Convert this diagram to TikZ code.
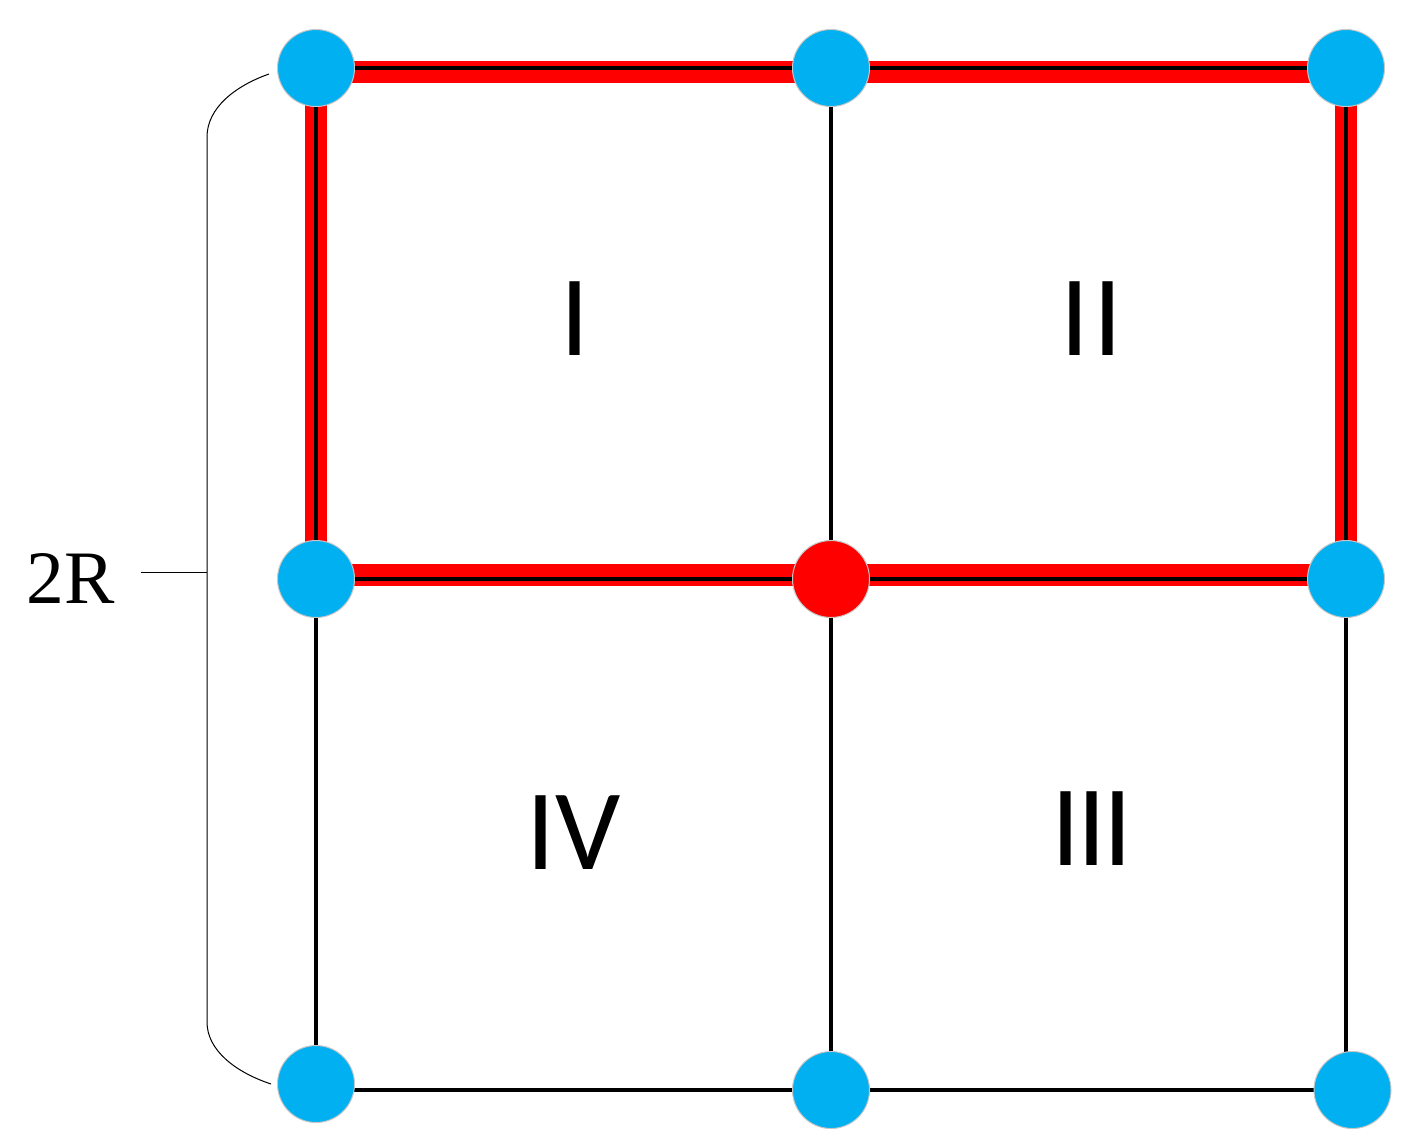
\documentclass[tikz,border=0pt]{standalone}
\usepackage{fontspec}
\setmainfont{Liberation Serif}
\newfontfamily\numfont{Carlito}
\usetikzlibrary{backgrounds}
\definecolor{dotblue}{HTML}{00B0F0}
\definecolor{bandred}{HTML}{FF0000}
\begin{document}
\begin{tikzpicture}[x=0.5pt,y=-0.5pt,
  dot/.style={circle,fill=dotblue,draw=black!22,line width=0.5pt,minimum size=38.5pt,inner sep=0pt},
  reddot/.style={dot,fill=bandred},
  gridline/.style={line width=2pt,black},
  band/.style={line width=11pt,bandred,line join=miter},
  brace/.style={line width=0.5pt,black},
  numeral/.style={font=\numfont\fontsize{57.5}{60}\selectfont,inner sep=0pt},
  label2r/.style={font=\fontsize{37.75}{40}\selectfont,inner sep=0pt}
]
\path[use as bounding box] (0,0) rectangle (1420,1147);

% nodes
\node[dot] (TL) at (316,68) {};
\node[dot] (TM) at (831,68) {};
\node[dot] (TR) at (1346,68) {};
\node[dot] (ML) at (316,579) {};
\node[reddot] (MM) at (831,579) {};
\node[dot] (MR) at (1346,579) {};
\node[dot] (BL) at (316,1084) {};
\node[dot] (BM) at (831,1090) {};
\node[dot] (BR) at (1352.5,1090) {};

% labels
\node[numeral] (q1) at (574.5,319) {I};
\node[numeral] (q2) at (1091.5,319) {I\kern2pt I};
\node[numeral] (q3) at (1092,829) {I\kern-1.5pt I\kern-1.5pt I};
\node[numeral] (q4) at (573.5,833) {IV};
\node[label2r] (lab) at (71,578) {2R};

% brace coordinates
\coordinate (bt) at (269,74);
\coordinate (bb) at (271,1084);
\coordinate (bm) at (207,572);
\coordinate (tk) at (141,572);

\begin{scope}[on background layer]
  % red band
  \draw[band] ([yshift=-2pt]TL.center) -- ([yshift=-2pt]TR.center)
     -- ([yshift=2pt]MR.center) -- ([yshift=2pt]ML.center) -- cycle;
  % grid lines
  \draw[gridline] (TL) -- (TM) -- (TR);
  \draw[gridline] (TL) -- (ML) -- (BL);
  \draw[gridline] (TM) -- (MM) -- (BM);
  \draw[gridline] (TR) -- (MR) -- (MR |- BR);
  \draw[gridline] (ML) -- (MM) -- (MR);
  \draw[gridline] (BL |- BM) -- (BM) -- (BR);
  % brace
  \draw[brace] (bt) .. controls (235,86) and (207,108) .. (207,137)
     -- (207,1022) .. controls (207,1050) and (235,1072) .. (bb);
  \draw[brace] (tk) -- (bm);
\end{scope}
\end{tikzpicture}
\end{document}
